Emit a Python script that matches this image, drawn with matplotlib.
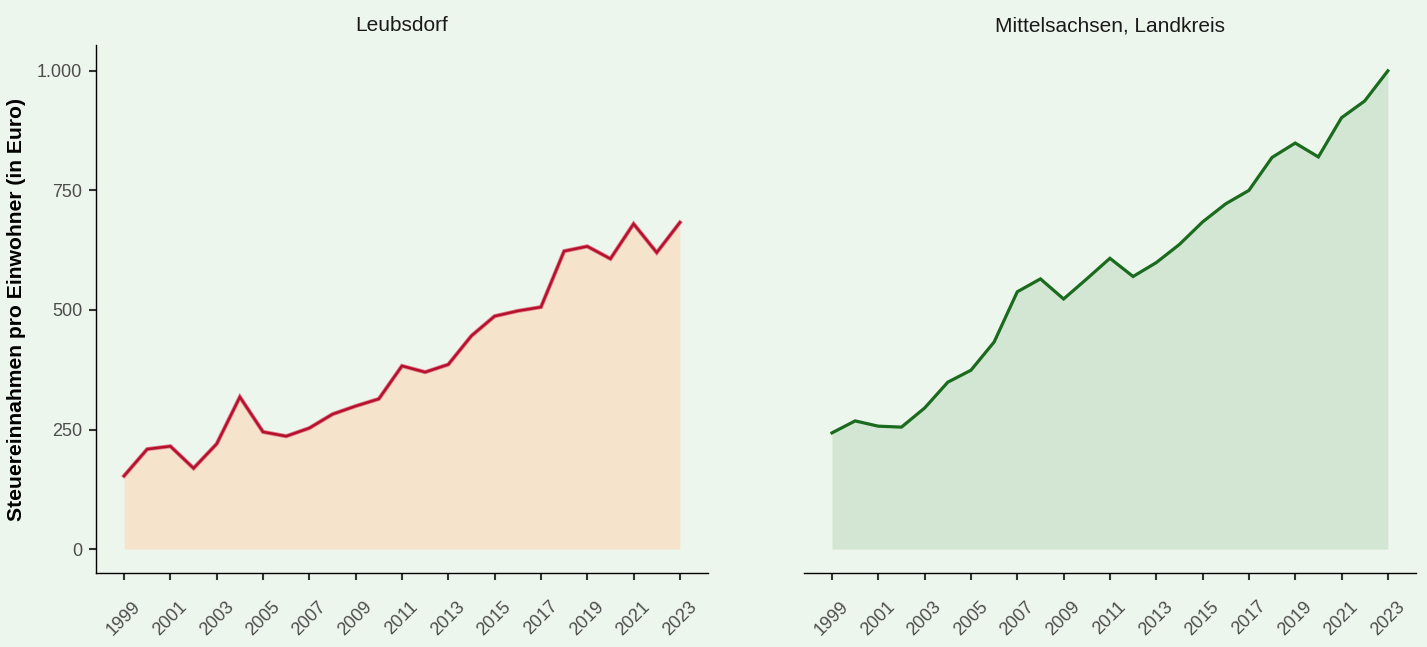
import matplotlib

matplotlib.use("Agg")

import matplotlib.pyplot as plt
from matplotlib.ticker import FuncFormatter

plt.rcParams["font.family"] = ["Liberation Sans", "DejaVu Sans"]

years = list(range(1999, 2024))

leubsdorf = [153, 209, 215, 169, 220, 318, 245, 236, 253, 282, 299, 314,
             383, 370, 386, 446, 487, 498, 506, 623, 633, 607, 680, 620, 683]

mittelsachsen = [243, 268, 257, 255, 295, 349, 374, 433, 538, 565, 523, 565,
                 608, 570, 599, 637, 684, 722, 750, 819, 849, 820, 902, 937, 1000]

panel_titles = ["Leubsdorf", "Mittelsachsen, Landkreis"]
y_ticks = [0, 250, 500, 750, 1000]
x_ticks = list(range(1999, 2024, 2))

BG = "#EDF6EC"
TEXT_GRAY = "#4D4D4D"


def german_thousands(value, pos):
    return f"{int(value):,}".replace(",", ".")


fig = plt.figure(figsize=(14.27, 6.47), dpi=100, facecolor=BG)
ax_left = fig.add_axes([0.0673, 0.1144, 0.4288, 0.816], facecolor=BG)
ax_right = fig.add_axes([0.5634, 0.1144, 0.4288, 0.816], facecolor=BG, sharey=ax_left)

# Leubsdorf
ax_left.fill_between(years, 0, leubsdorf, color="#F5E3CC", linewidth=0)
ax_left.plot(years, leubsdorf, color="#E07A88", linewidth=3.0, solid_joinstyle="miter")
ax_left.plot(years, leubsdorf, color="#B5102C", linewidth=1.8, solid_joinstyle="miter")

# Mittelsachsen
ax_right.fill_between(years, 0, mittelsachsen, color="#D3E5D3", linewidth=0)
ax_right.plot(years, mittelsachsen, color="#1A6B1E", linewidth=2.3, solid_joinstyle="miter")

for ax, title in zip([ax_left, ax_right], panel_titles):
    ax.set_title(title, fontsize=15, color="#1A1A1A", pad=10)
    ax.set_xlim(1997.79, 2024.21)
    ax.set_ylim(-50, 1054)
    ax.set_xticks(x_ticks)
    ax.set_xticklabels([str(y) for y in x_ticks], rotation=45, ha="center",
                       fontsize=13, color=TEXT_GRAY)
    ax.tick_params(axis="x", length=5, width=1.5, color="#333333", pad=13)
    for side in ["top", "right"]:
        ax.spines[side].set_visible(False)
    ax.spines["bottom"].set_color("black")
    ax.spines["bottom"].set_linewidth(1.0)

ax_left.set_yticks(y_ticks)
ax_left.yaxis.set_major_formatter(FuncFormatter(german_thousands))
ax_left.tick_params(axis="y", length=5, width=1.5, color="#333333", pad=5,
                    labelsize=13, labelcolor=TEXT_GRAY)
ax_left.spines["left"].set_color("black")
ax_left.spines["left"].set_linewidth(1.0)
ax_left.set_ylabel("Steuereinnahmen pro Einwohner (in Euro)", fontsize=15.2,
                   fontweight="bold", color="black", labelpad=8)

ax_right.spines["left"].set_visible(False)
ax_right.tick_params(axis="y", left=False, labelleft=False)

fig.savefig("out.png", dpi=100, facecolor=BG)
